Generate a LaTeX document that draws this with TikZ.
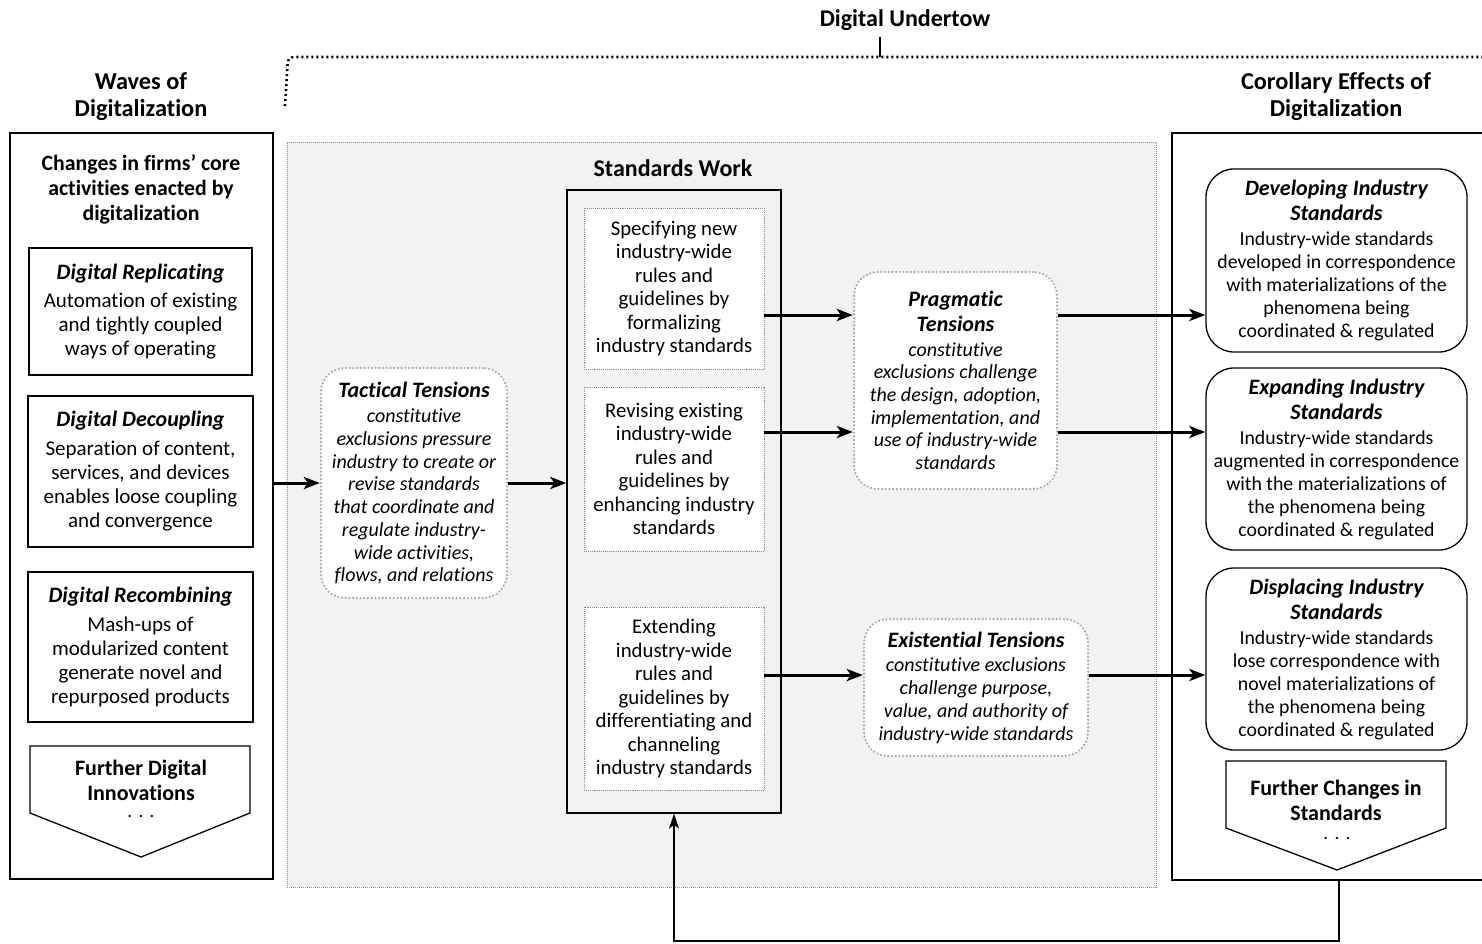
\documentclass[tikz,border=0pt]{standalone}
\usepackage{fontspec}
\setmainfont{Carlito}[Ligatures=NoCommon]
\usetikzlibrary{arrows.meta,calc}
\definecolor{bgfill}{RGB}{242,242,242}
\definecolor{dotgray}{RGB}{140,140,140}
\definecolor{tengray}{RGB}{165,165,165}
\begin{document}
\begin{tikzpicture}[x=1pt,y=-1pt,
  body/.style={font=\fontsize{21}{24}\selectfont, align=center},
  swtext/.style={font=\fontsize{20.8}{23.5}\selectfont, align=center},
  hd/.style={font=\fontsize{24.3}{27}\selectfont\bfseries, align=center},
  solidbox/.style={draw, line width=1.3pt, fill=white, inner sep=0pt, body},
  swbox/.style={draw=dotgray, densely dotted, line width=0.9pt, fill=white, inner sep=0pt, swtext},
  tensbox/.style={draw=tengray, dash pattern=on 0.1pt off 3.6pt, line cap=round, line width=2.3pt,
     rounded corners=24pt, fill=white, inner sep=0pt, font=\fontsize{20}{22.7}\selectfont\itshape, align=center},
  effect/.style={draw, line width=1.3pt, rounded corners=28pt, fill=white, inner sep=0pt,
     font=\fontsize{19.8}{23}\selectfont, align=center},
  bigarrow/.style={line width=3pt, -{Stealth[length=16pt,width=12pt,inset=4pt]}},
  fbarrow/.style={line width=1.4pt, -{Stealth[length=15pt,width=10pt,inset=4pt]}},
  chev/.style={draw, line width=1.3pt, fill=white, line join=miter},
  chevtext/.style={font=\fontsize{22}{25}\selectfont\bfseries, align=center},
  dots/.style={font=\fontsize{19}{20}\selectfont},
  outer/.style={draw, line width=2pt, fill=white, inner sep=0pt}
]
\useasboundingbox (0,0) rectangle (1482,943);

% ---------- top bracket ----------
\node[font=\fontsize{24}{27}\selectfont\bfseries] (undertow) at (905,20) {Digital Undertow};
\coordinate (brL) at (285,106);
\coordinate (brC) at (288,57);
\coordinate (brR) at (1482,57);
\coordinate (tick) at (880,57);
\coordinate (ticktop) at (880,37);
\draw[line width=2.6pt, dash pattern=on 2pt off 3pt, rounded corners=6pt] (brL) -- (brC) -- (brR);
\draw[line width=2.6pt] (tick) -- (ticktop);

\node[hd] (wtitle) at (141,97) {Waves of\\Digitalization};
\node[hd] (ctitle) at (1336,97) {Corollary Effects of\\Digitalization};

% ---------- left column ----------
\node[outer, minimum width=263pt, minimum height=746pt] (leftbox) at (141.5,506) {};
\node[font=\fontsize{21.8}{25}\selectfont\bfseries, align=center] (lhead) at (141,189)
  {Changes in firms’ core\\activities enacted by\\digitalization};
\node[solidbox, minimum width=223pt, minimum height=127pt] (rep) at (140.5,311.5)
  {{\fontsize{22}{25}\selectfont\bfseries\itshape Digital Replicating}\\[4pt]Automation of existing\\and tightly coupled\\ways of operating};
\node[solidbox, minimum width=225pt, minimum height=151pt] (dec) at (140.5,471.5)
  {{\fontsize{22}{25}\selectfont\bfseries\itshape Digital Decoupling}\\[5pt]Separation of content,\\services, and devices\\enables loose coupling\\and convergence};
\node[solidbox, minimum width=225pt, minimum height=150pt] (rec) at (140.5,647)
  {{\fontsize{22}{25}\selectfont\bfseries\itshape Digital Recombining}\\[5pt]Mash-ups of\\modularized content\\generate novel and\\repurposed products};
\coordinate (lc1) at (30,746);
\coordinate (lc2) at (250,746);
\coordinate (lc3) at (250,813);
\coordinate (lc4) at (141,857);
\coordinate (lc5) at (30,813);
\draw[chev] (lc1) -- (lc2) -- (lc3) -- (lc4) -- (lc5) -- cycle;
\node[chevtext] (lchev) at (141,780)
  {Further Digital\\Innovations};
\node[dots] (ldots) at (141,816) {.\,\,.\,\,.};

% ---------- standards work ----------
\node[draw=dotgray, densely dotted, line width=1pt, fill=bgfill, minimum width=869pt, minimum height=745pt, inner sep=0pt] (bg) at (721.5,514.5) {};
\node[font=\fontsize{24}{27}\selectfont\bfseries] (swtitle) at (673,168) {Standards Work};
\node[draw, line width=1.3pt, minimum width=214pt, minimum height=623pt, inner sep=0pt] (sw) at (674,501.5) {};
\node[swbox, minimum width=180pt, minimum height=161pt] (s1) at (674,288.5)
  {Specifying new\\industry-wide\\rules and\\guidelines by\\formalizing\\industry standards};
\node[swbox, minimum width=180pt, minimum height=164pt] (s2) at (674,469)
  {Revising existing\\industry-wide\\rules and\\guidelines by\\enhancing industry\\standards};
\node[swbox, minimum width=180pt, minimum height=183pt] (s3) at (674,698.5)
  {Extending\\industry-wide\\rules and\\guidelines by\\differentiating and\\channeling\\industry standards};

\node[tensbox, minimum width=186pt, minimum height=230pt] (tac) at (414,483)
  {{\fontsize{22}{25}\selectfont\bfseries Tactical Tensions}\\[3pt]constitutive\\exclusions pressure\\industry to create or\\revise standards\\that coordinate and\\regulate industry-\\wide activities,\\flows, and relations};
\node[tensbox, minimum width=203pt, minimum height=217pt] (prag) at (955.5,380.5)
  {{\fontsize{22}{25}\selectfont\bfseries Pragmatic}\\[2pt]{\fontsize{22}{25}\selectfont\bfseries Tensions}\\[2pt]constitutive\\exclusions challenge\\the design, adoption,\\implementation, and\\use of industry-wide\\standards};
\node[tensbox, minimum width=224pt, minimum height=137pt] (exis) at (976,687.5)
  {{\fontsize{22}{25}\selectfont\bfseries Existential Tensions}\\[2pt]constitutive exclusions\\challenge purpose,\\value, and authority of\\industry-wide standards};

% ---------- right column ----------
\coordinate (rbNW) at (1172,133);
\coordinate (rbSE) at (1482,880);
\fill[white] (rbNW) rectangle (rbSE);
\draw[line width=2pt] (rbSE) -- (rbSE -| rbNW) -- (rbNW) -- (rbNW -| rbSE);
\node[effect, minimum width=261pt, minimum height=183pt] (dev) at (1336.5,260.5)
  {{\fontsize{22}{25}\selectfont\bfseries\itshape Developing Industry}\\[2pt]{\fontsize{22}{25}\selectfont\bfseries\itshape Standards}\\[2pt]Industry-wide standards\\developed in correspondence\\with materializations of the\\phenomena being\\coordinated \& regulated};
\node[effect, minimum width=261pt, minimum height=182pt] (exp) at (1336.5,459)
  {{\fontsize{22}{25}\selectfont\bfseries\itshape Expanding Industry}\\[2pt]{\fontsize{22}{25}\selectfont\bfseries\itshape Standards}\\[2pt]Industry-wide standards\\augmented in correspondence\\with the materializations of\\the phenomena being\\coordinated \& regulated};
\node[effect, minimum width=261pt, minimum height=182pt] (dis) at (1336.5,659)
  {{\fontsize{22}{25}\selectfont\bfseries\itshape Displacing Industry}\\[2pt]{\fontsize{22}{25}\selectfont\bfseries\itshape Standards}\\[2pt]Industry-wide standards\\lose correspondence with\\novel materializations of\\the phenomena being\\coordinated \& regulated};
\coordinate (rc1) at (1226,761);
\coordinate (rc2) at (1446,761);
\coordinate (rc3) at (1446,828);
\coordinate (rc4) at (1337,870);
\coordinate (rc5) at (1226,828);
\draw[chev] (rc1) -- (rc2) -- (rc3) -- (rc4) -- (rc5) -- cycle;
\node[chevtext] (rchev) at (1336,800.5)
  {Further Changes in\\Standards};
\node[dots] (rdots) at (1337,838) {.\,\,.\,\,.};

% ---------- connectors ----------
\coordinate (a1) at (0,315);
\coordinate (a2) at (0,432);
\coordinate (a3) at (0,675);
\draw[bigarrow] (leftbox.east |- tac.west) -- (tac.west);
\draw[bigarrow] (tac.east) -- (sw.west |- tac.east);
\draw[bigarrow] (s1.east |- a1) -- (prag.west |- a1);
\draw[bigarrow] (s2.east |- a2) -- (prag.west |- a2);
\draw[bigarrow] (prag.east |- a1) -- (dev.west |- a1);
\draw[bigarrow] (prag.east |- a2) -- (exp.west |- a2);
\draw[bigarrow] (s3.east |- a3) -- (exis.west |- a3);
\draw[bigarrow] (exis.east |- a3) -- (dis.west |- a3);

\coordinate (fb) at (1339,880);
\coordinate (fbb) at (1339,941);
\draw[fbarrow] (fb) -- (fbb) -| (sw.south);
\end{tikzpicture}
\end{document}
